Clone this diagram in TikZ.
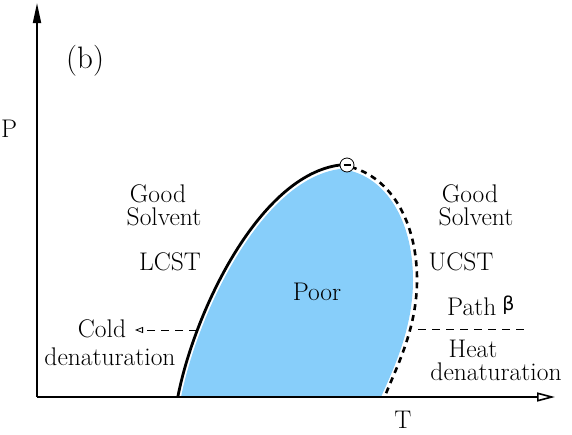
\documentclass[tikz,border=0pt]{standalone}
\usepackage{fontspec}
\newfontfamily\grkfont{DejaVu Sans}
\usetikzlibrary{arrows.meta}
\definecolor{poorblue}{RGB}{135,206,250}
\begin{document}
\begin{tikzpicture}[x=1pt,y=-1pt,
  lbl/.style={inner sep=0pt,font=\fontsize{25.5}{22}\selectfont},
  axis/.style={line width=1.8pt},
  guide/.style={line width=1pt,dash pattern=on 8pt off 6pt}]
\useasboundingbox (0,0) rectangle (572,434);
% fill
\fill[poorblue] (181,397) .. controls (198,312) and (262,179) .. (340,169)
  .. controls (383,173) and (413,217) .. (413,280)
  .. controls (413,330) and (392,372) .. (381,397) -- cycle;
% axes
\coordinate (O) at (37,397);
\coordinate (Ytop) at (37,3);
\coordinate (Xend) at (555,397);
\draw[axis,-{Triangle[length=20pt,width=8pt]}] (O) -- (Ytop);
\draw[axis,-{Triangle[open,length=18pt,width=9pt,line width=1.6pt]}] (O) -- (Xend);
% LCST solid curve
\coordinate (lbot) at (178,396);
\coordinate (peak) at (340,165);
\draw[line width=2.8pt] (lbot) .. controls (195,310) and (260,175) .. (peak);
% UCST dashed curve
\coordinate (rmid) at (417,280);
\coordinate (rbot) at (385,396);
\draw[line width=2.6pt,dash pattern=on 6pt off 5pt] (peak) .. controls (385,170) and (417,215) .. (rmid)
  .. controls (417,330) and (395,370) .. (rbot);
% critical point
\node[circle,draw,fill=white,line width=0.8pt,minimum size=14pt,inner sep=0pt] (crit) at (347,165) {};
\draw[line width=2.4pt] ([xshift=-3.5pt]crit.center) -- ([xshift=3.5pt]crit.center);
% labels
\node[lbl,font=\fontsize{31}{31}\selectfont,anchor=base west] (b) at (66,68) {(b)};
\node[lbl,anchor=base west] (P) at (1,137) {P};
\node[lbl,anchor=base] (T) at (403,428) {T};
\node[lbl,anchor=base] (g1) at (158,202) {Good};
\node[lbl,anchor=base] (s1) at (164,225) {Solvent};
\node[lbl,anchor=base] (lcst) at (170,270) {LCST};
\node[lbl,anchor=base] (poor) at (317,300) {Poor};
\node[lbl,anchor=base] (g2) at (470,202) {Good};
\node[lbl,anchor=base] (s2) at (476,225) {Solvent};
\node[lbl,anchor=base] (ucst) at (461,270) {UCST};
\node[lbl,anchor=base west] (path) at (447,315) {Path\hspace{6pt}{\grkfont\fontsize{19}{19}\selectfont\raisebox{5pt}{β}}};
\node[lbl,anchor=base] (cold) at (102,337) {Cold};
\node[lbl,anchor=base] (cden) at (110,365) {denaturation};
\node[lbl,anchor=base] (heat) at (473,357) {Heat};
\node[lbl,anchor=base] (hden) at (496,380) {denaturation};
% paths
\coordinate (cstart) at (197,330);
\coordinate (ctip) at (135,330);
\draw[guide,-{Triangle[open,length=8pt,width=6pt,line width=0.8pt]}] (cstart) -- (ctip);
\coordinate (hstart) at (418,329);
\coordinate (hend) at (527,329);
\draw[guide] (hstart) -- (hend);
\end{tikzpicture}
\end{document}
